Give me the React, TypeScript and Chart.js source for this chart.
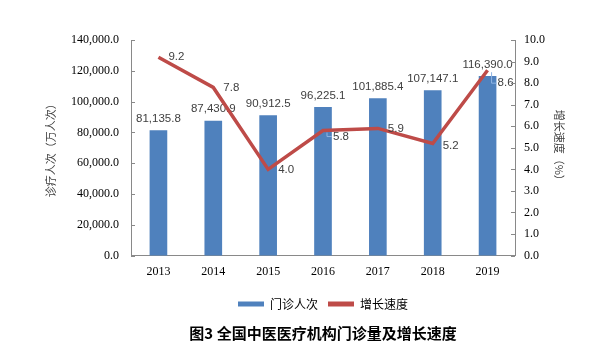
import React, { useEffect, useRef } from "react";
import { Chart, registerables } from "chart.js";

Chart.register(...registerables);

const years = ["2013", "2014", "2015", "2016", "2017", "2018", "2019"];
const visits = [81135.8, 87430.9, 90912.5, 96225.1, 101885.4, 107147.1, 116390.0];
const growth = [9.2, 7.8, 4.0, 5.8, 5.9, 5.2, 8.6];
const leftTicks = [0, 20000, 40000, 60000, 80000, 100000, 120000, 140000];
const rightTicks = [0, 1, 2, 3, 4, 5, 6, 7, 8, 9, 10];

const barName = "门诊人次";
const lineName = "增长速度";
const leftTitle = "诊疗人次（万人次）";
const rightTitle = "增长速度（%）";
const chartTitle = "图3 全国中医医疗机构门诊量及增长速度";

const BLUE = "#4F81BD";
const RED = "#BE4B48";
const AXIS = "#898989";
const LABEL = "#404040";

// style-only vertical nudges for line labels (pixels)
const lineLabelDy = [0, 0, 0, 6, 0, 2, 13];

const fmt1 = (v: number) =>
  v.toLocaleString("en-US", { minimumFractionDigits: 1, maximumFractionDigits: 1 });

const labelPlugin = {
  id: "customLabels",
  afterDatasetDraw(chart: any, args: any) {
    const ctx = chart.ctx;
    if (args.index === 0) {
      const meta = chart.getDatasetMeta(0);
      ctx.save();
      ctx.font = "11.5px 'Liberation Sans', Arial, sans-serif";
      ctx.fillStyle = LABEL;
      ctx.textAlign = "center";
      ctx.textBaseline = "bottom";
      meta.data.forEach((el: any, i: number) => {
        ctx.fillText(fmt1(visits[i]), el.x, el.y - 6);
      });
      ctx.restore();
    }
  },
  afterDatasetsDraw(chart: any) {
    const ctx = chart.ctx;
    const meta = chart.getDatasetMeta(1);
    ctx.save();
    ctx.font = "11.5px 'Liberation Sans', Arial, sans-serif";
    ctx.fillStyle = LABEL;
    ctx.textAlign = "left";
    ctx.textBaseline = "middle";
    meta.data.forEach((el: any, i: number) => {
      const dy = lineLabelDy[i];
      if (dy > 4) {
        ctx.strokeStyle = "#8EB4E3";
        ctx.lineWidth = 1;
        ctx.beginPath();
        ctx.moveTo(el.x + 4, el.y + 2);
        ctx.lineTo(el.x + 4, el.y + dy);
        ctx.lineTo(el.x + 9, el.y + dy);
        ctx.stroke();
      }
      ctx.fillText(growth[i].toFixed(1), el.x + 10, el.y + dy);
    });
    ctx.restore();
  },
  afterDraw(chart: any) {
    // inward tick marks on both value axes
    const ctx = chart.ctx;
    const yl = chart.scales.y;
    const yr = chart.scales.y1;
    const area = chart.chartArea;
    ctx.save();
    ctx.strokeStyle = AXIS;
    ctx.lineWidth = 1;
    ctx.beginPath();
    leftTicks.forEach((t) => {
      const y = Math.round(yl.getPixelForValue(t)) + 0.5;
      ctx.moveTo(area.left, y);
      ctx.lineTo(area.left + 4, y);
    });
    rightTicks.forEach((t) => {
      const y = Math.round(yr.getPixelForValue(t)) + 0.5;
      ctx.moveTo(area.right - 4, y);
      ctx.lineTo(area.right, y);
    });
    ctx.stroke();
    ctx.restore();
  },
};

export default function App() {
  const ref = useRef<HTMLCanvasElement>(null);

  useEffect(() => {
    if (!ref.current) return;
    const chart = new Chart(ref.current, {
      type: "bar",
      data: {
        labels: years,
        datasets: [
          {
            type: "bar",
            label: barName,
            data: visits,
            backgroundColor: BLUE,
            barThickness: 17,
            yAxisID: "y",
            order: 1,
          },
          {
            type: "line",
            label: lineName,
            data: growth,
            borderColor: RED,
            backgroundColor: RED,
            borderWidth: 3.5,
            pointRadius: 0,
            tension: 0,
            yAxisID: "y1",
            order: 0,
          } as any,
        ],
      },
      options: {
        animation: false,
        responsive: true,
        maintainAspectRatio: false,
        layout: { padding: { left: 40, right: 30, top: 40, bottom: 13 } },
        scales: {
          x: {
            offset: true,
            grid: { display: false, drawTicks: false },
            border: { display: true, color: AXIS },
            ticks: {
              padding: 9,
              color: "#000",
              font: { family: "'Liberation Serif', 'Times New Roman', serif", size: 12 },
            },
          },
          y: {
            position: "left",
            min: 0,
            max: 140000,
            afterBuildTicks: (s: any) => {
              s.ticks = leftTicks.map((v) => ({ value: v }));
            },
            grid: { display: false, drawTicks: false },
            border: { display: true, color: AXIS },
            ticks: {
              padding: 12,
              color: "#000",
              font: { family: "'Liberation Serif', 'Times New Roman', serif", size: 12 },
              callback: (v: any) => fmt1(Number(v)),
            },
            title: {
              display: true,
              text: leftTitle,
              color: LABEL,
              font: { family: "'Noto Sans CJK SC', sans-serif", size: 11 },
              padding: { top: 4, bottom: 4 },
            },
            afterFit: (s: any) => {
              s.width = 91;
            },
          },
          y1: {
            position: "right",
            min: 0,
            max: 10,
            afterBuildTicks: (s: any) => {
              s.ticks = rightTicks.map((v) => ({ value: v }));
            },
            grid: { display: false, drawTicks: false },
            border: { display: true, color: AXIS },
            ticks: {
              padding: 9,
              color: "#000",
              font: { family: "'Liberation Serif', 'Times New Roman', serif", size: 12 },
              callback: (v: any) => Number(v).toFixed(1),
            },
            title: {
              display: true,
              text: rightTitle,
              color: LABEL,
              font: { family: "'Noto Sans CJK SC', sans-serif", size: 11 },
              padding: { top: 4, bottom: 4 },
            },
            afterFit: (s: any) => {
              s.width = 55;
            },
          },
        },
        plugins: {
          legend: {
            position: "bottom",
            fullSize: false,
            labels: {
              color: "#595959",
              font: { family: "'Noto Sans CJK SC', sans-serif", size: 12 },
              boxWidth: 26,
              boxHeight: 5,
              padding: 10,
              generateLabels: () => [
                {
                  text: barName,
                  fillStyle: BLUE,
                  strokeStyle: BLUE,
                  lineWidth: 0,
                  datasetIndex: 0,
                  hidden: false,
                },
                {
                  text: lineName,
                  fillStyle: RED,
                  strokeStyle: RED,
                  lineWidth: 0,
                  datasetIndex: 1,
                  hidden: false,
                },
              ],
            },
          },
          title: {
            display: true,
            position: "bottom",
            fullSize: false,
            text: chartTitle,
            color: "#000",
            font: { family: "'Noto Sans CJK SC', sans-serif", size: 15, weight: "bold" },
            padding: { top: 4, bottom: 4 },
          },
          tooltip: { enabled: false },
        },
      },
      plugins: [labelPlugin],
    });
    return () => chart.destroy();
  }, []);

  return (
    <div
      style={{
        position: "fixed",
        left: 0,
        top: 0,
        width: 600,
        height: 359,
        background: "#fff",
      }}
    >
      <canvas ref={ref} />
    </div>
  );
}
